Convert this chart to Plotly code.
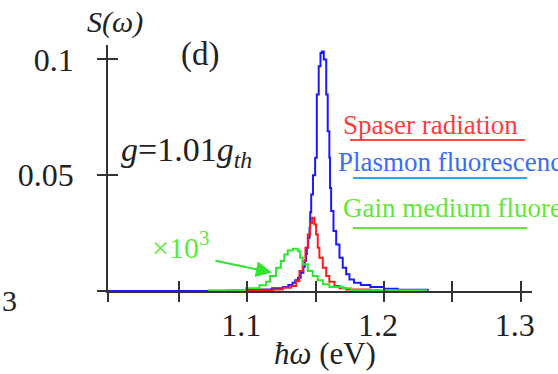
import plotly.graph_objects as go

# ---------------- data ----------------
blue_x = [0.998, 1.085, 1.100, 1.108, 1.118, 1.126, 1.130, 1.133, 1.135, 1.137, 1.139,
          1.141, 1.142, 1.143, 1.1435, 1.1445, 1.1455, 1.146, 1.1467, 1.148, 1.1496,
          1.1508, 1.1522, 1.1535, 1.1545, 1.1559, 1.1577, 1.1588, 1.1600, 1.1605,
          1.1613, 1.163, 1.165, 1.1674, 1.1698, 1.1723, 1.1747, 1.178, 1.183, 1.190,
          1.200, 1.210, 1.232]
blue_y = [0.0000, 0.0002, 0.0004, 0.0006, 0.0012, 0.0017, 0.0026, 0.0036, 0.0046, 0.0057,
          0.0079, 0.0105, 0.0129, 0.0160, 0.0187, 0.0230, 0.0273, 0.0340, 0.0417, 0.0500,
          0.0575, 0.0848, 0.0970, 0.1027, 0.1034, 0.0999, 0.0848, 0.0690, 0.0575, 0.0445,
          0.0345, 0.0259, 0.0201, 0.0144, 0.0100, 0.0072, 0.0050, 0.0036, 0.0026, 0.0017,
          0.0010, 0.0005, 0.0000]

red_x = [1.077, 1.110, 1.1186, 1.1259, 1.132, 1.1357, 1.1381, 1.1405, 1.1425, 1.1442,
         1.1459, 1.1474, 1.1491, 1.1503, 1.1515, 1.1527, 1.1552, 1.1577, 1.1600, 1.1637,
         1.1674, 1.1723, 1.190, 1.197]
red_y = [0.0000, 0.0003, 0.0007, 0.0014, 0.0022, 0.0043, 0.0086, 0.0129, 0.0187, 0.0244,
         0.0294, 0.0316, 0.0287, 0.0244, 0.0187, 0.0144, 0.0100, 0.0065, 0.0040, 0.0022,
         0.0012, 0.0007, 0.0003, 0.0000]

green_x = [1.071, 1.099, 1.1088, 1.1137, 1.1165, 1.1210, 1.1245, 1.1270, 1.1295, 1.1332,
           1.1369, 1.1386, 1.1405, 1.1442, 1.1478, 1.1515, 1.1552, 1.1600, 1.1698, 1.1760,
           1.231]
green_y = [0.0003, 0.0012, 0.0025, 0.0040, 0.0065, 0.0100, 0.0129, 0.0158, 0.0175, 0.0182,
           0.0172, 0.0144, 0.0115, 0.0086, 0.0065, 0.0046, 0.0029, 0.0017, 0.0012, 0.0003,
           0.0000]

x_tickvals = [0.998, 1.05, 1.1, 1.15, 1.2, 1.25, 1.3]
x_ticktext = ["", "", "1.1", "", "1.2", "", "1.3"]
y_tickvals = [0, 0.05, 0.1]
y_ticktext = ["", "0.05", "0.1"]

legend_names = ["Spaser radiation", "Plasmon fluorescence", "Gain medium fluorescence"]

# ---------------- styles ----------------
W, H = 558, 374
L, R, T, B = 108, 532, 45, 291
SERIF = "Liberation Serif"
C_BLUE, C_RED, C_GREEN = "#1a1aff", "#ff1a1a", "#2ee62e"
T_BLUE, T_RED, T_GREEN = "#3a6bff", "#ff3b3b", "#5ee83a"


def px(xp):
    return (xp - L) / (R - L)


def py(yp):
    return (B - yp) / (B - T)


fig = go.Figure()
fig.add_trace(go.Scatter(x=blue_x, y=blue_y, mode="lines", line_shape="hv",
                         line=dict(color=C_BLUE, width=2), name=legend_names[1]))
fig.add_trace(go.Scatter(x=red_x, y=red_y, mode="lines", line_shape="hv",
                         line=dict(color=C_RED, width=2), name=legend_names[0]))
fig.add_trace(go.Scatter(x=green_x, y=green_y, mode="lines", line_shape="hv",
                         line=dict(color=C_GREEN, width=2), name=legend_names[2]))

tick_style = dict(ticklen=10, tickwidth=1.5, tickcolor="#333")
fig.update_layout(
    width=W, height=H, paper_bgcolor="white", plot_bgcolor="white",
    margin=dict(l=L, r=W - R, t=T, b=H - B, pad=0),
    showlegend=False,
    font=dict(family=SERIF),
    # primary axes: line, labels and the inward half of each "+" tick
    xaxis=dict(range=[0.998, 1.3083], tickmode="array", tickvals=x_tickvals,
               ticktext=x_ticktext, ticks="inside", ticklabelstandoff=5, ticklabelshift=-6,
               showgrid=False, zeroline=False, showline=True, linecolor="#333", linewidth=1.5,
               tickfont=dict(family=SERIF, size=32, color="#222"), **tick_style),
    yaxis=dict(range=[0, 0.1062], tickmode="array", tickvals=y_tickvals,
               ticktext=y_ticktext, ticks="inside", ticklabelstandoff=26,
               showgrid=False, zeroline=False, showline=True, linecolor="#333", linewidth=1.5,
               tickfont=dict(family=SERIF, size=32, color="#222"), **tick_style),
    # overlay axes: the outward half of each "+" tick
    xaxis2=dict(overlaying="x", matches="x", anchor="y", side="bottom", showgrid=False,
                zeroline=False, showline=False, ticks="outside", tickmode="array",
                tickvals=x_tickvals, showticklabels=False, **tick_style),
    yaxis2=dict(overlaying="y", matches="y", anchor="x", side="left", showgrid=False,
                zeroline=False, showline=False, ticks="outside", tickmode="array",
                tickvals=y_tickvals, showticklabels=False, **tick_style),
)
# invisible carrier trace so the overlay axes are drawn
fig.add_trace(go.Scatter(x=[x_tickvals[0]], y=[y_tickvals[0]], xaxis="x2", yaxis="y2",
                         mode="markers", marker=dict(opacity=0), hoverinfo="skip",
                         showlegend=False))

ann = []


def text(xp, yp, s, size, color="#222", xanchor="center"):
    ann.append(dict(x=px(xp), y=py(yp), xref="paper", yref="paper", text=s,
                    showarrow=False, xanchor=xanchor, yanchor="middle",
                    font=dict(family=SERIF, size=size, color=color)))


text(115, 22, "<i>S(ω)</i>", 30)
text(200, 54, "(d)", 33)
text(119, 152, "<i>g</i>=1.01<i>g</i><sub><i>th</i></sub>", 34, xanchor="left")
text(150, 245, "×10<sup>3</sup>", 30, color=T_GREEN, xanchor="left")
text(341, 125, legend_names[0], 27, color=T_RED, xanchor="left")
text(336, 162, legend_names[1], 27, color=T_BLUE, xanchor="left")
text(341, 208, legend_names[2], 27, color=T_GREEN, xanchor="left")
text(325, 353, "<i>ħω</i> (eV)", 31)
text(9, 300, "3", 30)

# arrow pointing at the gain-medium curve
ann.append(dict(x=1.118, y=0.0080, xref="x", yref="y", ax=-58, ay=-12,
                axref="pixel", ayref="pixel", text="", showarrow=True,
                arrowhead=2, arrowsize=1.6, arrowwidth=2, arrowcolor=C_GREEN))
fig.update_layout(annotations=ann)

# legend underlines
for y0, x0, x1, col in [(140, 350, 525, "#ff4a4a"), (178, 353, 527, "#22a8ff"),
                        (228, 353, 527, "#66e63a")]:
    fig.add_shape(type="line", xref="paper", yref="paper", x0=px(x0), x1=px(x1),
                  y0=py(y0), y1=py(y0), line=dict(color=col, width=2))

fig.write_html("out.html")
